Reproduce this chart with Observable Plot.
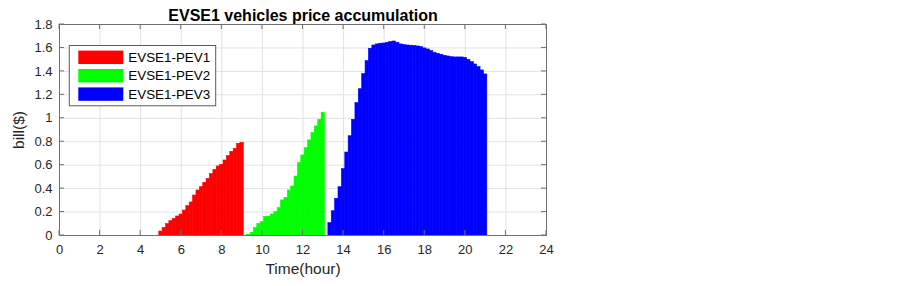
<!DOCTYPE html>
<html><head><meta charset="utf-8">
<script src="https://cdn.jsdelivr.net/npm/d3@7"></script>
<script src="https://cdn.jsdelivr.net/npm/@observablehq/plot@0.6"></script>
<style>html,body{margin:0;padding:0;background:#fff} svg{display:block}</style>
</head><body><div id="chart"></div>
<script>
const titleText = "EVSE1 vehicles price accumulation";
const xLabel = "Time(hour)";
const yLabel = "bill($)";
const seriesNames = ["EVSE1-PEV1", "EVSE1-PEV2", "EVSE1-PEV3"];
const seriesColors = ["#ff0000", "#00ff00", "#0000ff"];
// first bar time (hours) of each series; bars every 10 minutes
const startHours = [5, 9 + 20/60, 13 + 20/60];
const stepHours = 1/6;
const pev1 = [0.034,0.065,0.097,0.122,0.142,0.162,0.179,0.213,0.25,0.282,0.341,0.384,0.412,0.449,0.483,0.523,0.56,0.589,0.603,0.64,0.677,0.714,0.74,0.782,0.791];
const pev2 = [0.006,0.023,0.065,0.1,0.114,0.159,0.162,0.179,0.199,0.233,0.299,0.321,0.384,0.418,0.503,0.617,0.683,0.745,0.811,0.873,0.93,0.987,1.047];
const pev3 = [0.105,0.207,0.313,0.412,0.566,0.708,0.847,0.987,1.129,1.248,1.376,1.487,1.593,1.621,1.63,1.636,1.638,1.644,1.65,1.655,1.644,1.63,1.624,1.621,1.619,1.616,1.613,1.607,1.596,1.587,1.573,1.559,1.55,1.542,1.533,1.527,1.521,1.519,1.519,1.519,1.516,1.499,1.479,1.459,1.436,1.408,1.374];
const xTicks = [0,2,4,6,8,10,12,14,16,18,20,22,24];
const yTicks = [0,0.2,0.4,0.6,0.8,1,1.2,1.4,1.6,1.8];

const seriesValues = [pev1, pev2, pev3];
const rows = [];
seriesValues.forEach((vals, s) => vals.forEach((v, i) => rows.push({series: seriesNames[s], t: startHours[s] + i * stepHours, v})));

const font = "'Liberation Sans', Arial, Helvetica, sans-serif";
const chart = Plot.plot({
  width: 903, height: 286,
  marginLeft: 59, marginRight: 357, marginTop: 24, marginBottom: 51,
  style: {fontFamily: font, fontSize: "13px", color: "#262626", background: "#fff", overflow: "visible"},
  x: {domain: [0, 24], ticks: xTicks},
  y: {domain: [0, 1.8], ticks: yTicks},
  color: {domain: seriesNames, range: seriesColors},
  marks: [
    Plot.gridX(xTicks, {stroke: "#e2e2e2", strokeOpacity: 1}),
    Plot.gridY(yTicks, {stroke: "#e2e2e2", strokeOpacity: 1}),
    Plot.rectY(rows, {x1: d => d.t - stepHours/2, x2: d => d.t + stepHours/2, y1: 0, y2: "v", fill: "series", stroke: "series", strokeWidth: 0.6}),
    Plot.ruleY([0], {stroke: "#5a5af0", strokeWidth: 1}),
    Plot.frame({stroke: "#707070"}),
    Plot.axisX(xTicks, {tickSize: 0, tickPadding: 9, label: null, fontSize: 13, fill: "#262626"}),
    Plot.axisY(yTicks, {tickSize: 0, tickPadding: 7, label: null, fontSize: 13, fill: "#262626", tickFormat: d => String(Math.round(d * 10) / 10)}),
    Plot.text([titleText], {text: d => d, frameAnchor: "top", dy: -4, lineAnchor: "bottom", fontWeight: "bold", fontSize: 16, fill: "#000"}),
    Plot.text([xLabel], {text: d => d, frameAnchor: "bottom", dy: 38, fontSize: 15.5, fill: "#262626"}),
    Plot.text([yLabel], {text: d => d, frameAnchor: "left", textAnchor: "middle", dx: -40, rotate: -90, fontSize: 15.5, fill: "#262626"})
  ]
});
document.getElementById("chart").appendChild(chart);

// inward tick marks on all four sides, positioned via the plot's scales
const sx = chart.scale("x"), sy = chart.scale("y");
const svg = d3.select(chart);
const [x0, x1] = sx.range, [y0, y1] = sy.range; // y0 bottom, y1 top
const tk = 5;
const tg = svg.append("g").attr("stroke", "#707070").attr("stroke-width", 1);
xTicks.forEach(v => {
  const px = sx.apply(v);
  tg.append("line").attr("x1", px).attr("x2", px).attr("y1", y0).attr("y2", y0 - tk);
  tg.append("line").attr("x1", px).attr("x2", px).attr("y1", y1).attr("y2", y1 + tk);
});
yTicks.forEach(v => {
  const py = sy.apply(v);
  tg.append("line").attr("x1", x0).attr("x2", x0 + tk).attr("y1", py).attr("y2", py);
  tg.append("line").attr("x1", x1).attr("x2", x1 - tk).attr("y1", py).attr("y2", py);
});

// legend box (MATLAB style, upper-left inside axes)
const lg = svg.append("g").attr("font-family", font).attr("font-size", 13.4).attr("text-anchor", "start");
const lx = x0 + 10.3, ly = y1 + 21.5, lw = 146.4, lh = 60.3;
lg.append("rect").attr("x", lx).attr("y", ly).attr("width", lw).attr("height", lh)
  .attr("fill", "#fff").attr("stroke", "#5a5a5a").attr("stroke-width", 1);
seriesNames.forEach((name, i) => {
  const cy = ly + 11.8 + i * 18.4;
  lg.append("rect").attr("x", lx + 9).attr("y", cy - 6.7).attr("width", 45).attr("height", 13.4).attr("fill", seriesColors[i]);
  lg.append("text").attr("x", lx + 59).attr("y", cy).attr("dy", "0.35em").attr("text-anchor", "start").attr("fill", "#000").text(name);
});
</script>
</body></html>
